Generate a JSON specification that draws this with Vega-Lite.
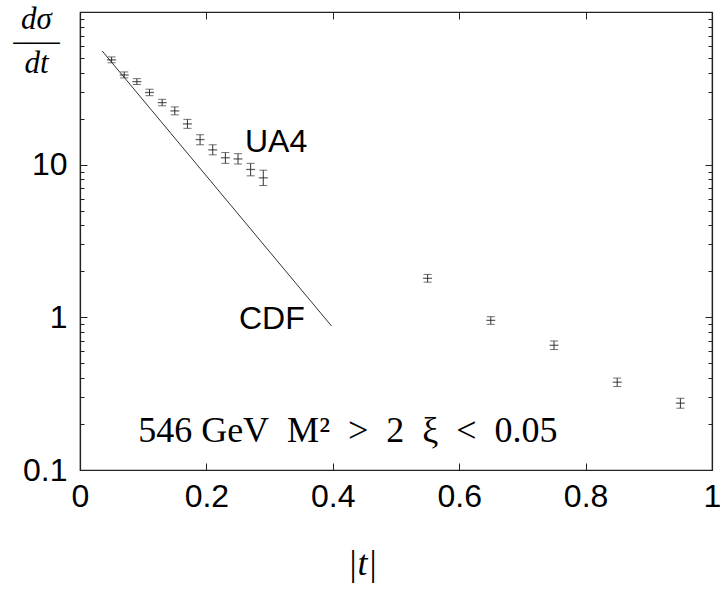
{
  "$schema": "https://vega.github.io/schema/vega-lite/v6.json",
  "width": 632,
  "height": 458,
  "autosize": "none",
  "padding": {"left": 80, "top": 12, "right": 8, "bottom": 123},
  "background": "white",
  "config": {
    "view": {"stroke": "#222", "strokeWidth": 1.2},
    "axis": {"domainColor": "#222", "tickColor": "#222", "labelColor": "#000", "titleColor": "#000", "grid": false, "domainWidth": 1.2, "tickWidth": 1}
  },
  "datasets": {
    "ua4": [
      {"t": 0.05, "v": 48.6, "lo": 46.5, "hi": 50.8},
      {"t": 0.07, "v": 38.7, "lo": 37.0, "hi": 40.5},
      {"t": 0.09, "v": 35.0, "lo": 33.5, "hi": 36.6},
      {"t": 0.11, "v": 29.7, "lo": 28.3, "hi": 31.2},
      {"t": 0.13, "v": 25.5, "lo": 24.3, "hi": 26.8},
      {"t": 0.15, "v": 22.5, "lo": 21.2, "hi": 23.9},
      {"t": 0.17, "v": 18.5, "lo": 17.3, "hi": 19.8},
      {"t": 0.19, "v": 14.6, "lo": 13.5, "hi": 15.7},
      {"t": 0.21, "v": 12.5, "lo": 11.6, "hi": 13.5},
      {"t": 0.23, "v": 11.1, "lo": 10.2, "hi": 12.0},
      {"t": 0.25, "v": 10.9, "lo": 10.1, "hi": 11.8},
      {"t": 0.27, "v": 9.3, "lo": 8.45, "hi": 10.2},
      {"t": 0.29, "v": 8.2, "lo": 7.3, "hi": 9.2},
      {"t": 0.55, "v": 1.80, "lo": 1.70, "hi": 1.91},
      {"t": 0.65, "v": 0.955, "lo": 0.90, "hi": 1.01},
      {"t": 0.75, "v": 0.656, "lo": 0.615, "hi": 0.70},
      {"t": 0.85, "v": 0.376, "lo": 0.352, "hi": 0.40},
      {"t": 0.95, "v": 0.274, "lo": 0.254, "hi": 0.295}
    ],
    "cdf": [
      {"t": 0.035, "v": 55.6},
      {"t": 0.398, "v": 0.877}
    ],
    "sanslabels": [
      {"t": 0.261, "v": 14.0, "label": "UA4"},
      {"t": 0.2516, "v": 0.97, "label": "CDF"}
    ],
    "seriflabels": [
      {"t": 0.092, "v": 0.18, "label": "546 GeV\u00a0 M²\u00a0 > \u00a02\u00a0 ξ\u00a0 < \u00a00.05"}
    ]
  },
  "resolve": {"axis": {"x": "independent", "y": "independent"}},
  "layer": [
    {
      "data": {"name": "cdf"},
      "mark": {"type": "line", "color": "#333", "strokeWidth": 1},
      "encoding": {
        "x": {
          "field": "t", "type": "quantitative",
          "scale": {"domain": [0, 1], "nice": false, "zero": false},
          "axis": {
            "orient": "bottom",
            "values": [0, 0.2, 0.4, 0.6, 0.8, 1],
            "format": "~g",
            "tickSize": -7,
            "labelPadding": 18,
            "labelFont": "Liberation Sans",
            "labelFontSize": 32,
            "labelBound": false,
            "labelFlush": false,
            "labelOverlap": false,
            "title": "|t|",
            "titleFont": "Liberation Serif",
            "titleFontStyle": "italic",
            "titleFontWeight": "normal",
            "titleFontSize": 36,
            "titleX": 282,
            "titleY": 76,
            "titleBaseline": "top"
          }
        },
        "y": {
          "field": "v", "type": "quantitative",
          "scale": {"type": "log", "domain": [0.1, 100], "nice": false},
          "axis": {
            "orient": "left",
            "values": [0.1, 0.2, 0.3, 0.4, 0.5, 0.6, 0.7, 0.8, 0.9, 1, 2, 3, 4, 5, 6, 7, 8, 9, 10, 20, 30, 40, 50, 60, 70, 80, 90, 100],
            "format": "~g",
            "labelExpr": "(datum.value == 0.1 || datum.value == 1 || datum.value == 10) ? datum.label : ''",
            "tickSize": {"condition": {"test": "datum.value == 0.1 || datum.value == 1 || datum.value == 10 || datum.value == 100", "value": -7}, "value": -4},
            "labelPadding": 20,
            "labelFont": "Liberation Sans",
            "labelFontSize": 32,
            "labelOverlap": false,
            "labelBound": false,
            "labelFlush": false,
            "title": ["dσ", "–––", "dt"],
            "titleFont": "Liberation Serif",
            "titleFontStyle": "italic",
            "titleFontWeight": "normal",
            "titleFontSize": 31,
            "titleLineHeight": 22,
            "titleAngle": 0,
            "titleAlign": "center",
            "titleBaseline": "top",
            "titleX": -44,
            "titleY": -8
          }
        }
      }
    },
    {
      "data": {"name": "ua4"},
      "mark": {"type": "rule", "color": "#333", "strokeWidth": 1},
      "encoding": {
        "x": {
          "field": "t", "type": "quantitative",
          "scale": {"domain": [0, 1], "nice": false, "zero": false},
          "axis": {"orient": "top", "values": [0.2, 0.4, 0.6, 0.8], "tickSize": -7, "labels": false, "title": null}
        },
        "y": {
          "field": "lo", "type": "quantitative",
          "scale": {"type": "log", "domain": [0.1, 100], "nice": false},
          "axis": {
            "orient": "right",
            "values": [0.1, 0.2, 0.3, 0.4, 0.5, 0.6, 0.7, 0.8, 0.9, 1, 2, 3, 4, 5, 6, 7, 8, 9, 10, 20, 30, 40, 50, 60, 70, 80, 90, 100],
            "tickSize": {"condition": {"test": "datum.value == 0.1 || datum.value == 1 || datum.value == 10 || datum.value == 100", "value": -7}, "value": -4},
            "labels": false,
            "title": null
          }
        },
        "y2": {"field": "hi"}
      }
    },
    {
      "data": {"name": "ua4"},
      "mark": {"type": "tick", "orient": "horizontal", "color": "#333", "size": 8, "thickness": 1},
      "encoding": {
        "x": {"field": "t", "type": "quantitative", "axis": null},
        "y": {"field": "lo", "type": "quantitative", "axis": null}
      }
    },
    {
      "data": {"name": "ua4"},
      "mark": {"type": "tick", "orient": "horizontal", "color": "#333", "size": 8, "thickness": 1},
      "encoding": {
        "x": {"field": "t", "type": "quantitative", "axis": null},
        "y": {"field": "hi", "type": "quantitative", "axis": null}
      }
    },
    {
      "data": {"name": "ua4"},
      "mark": {"type": "tick", "orient": "horizontal", "color": "#222", "size": 9, "thickness": 1.3},
      "encoding": {
        "x": {"field": "t", "type": "quantitative", "axis": null},
        "y": {"field": "v", "type": "quantitative", "axis": null}
      }
    },
    {
      "data": {"name": "sanslabels"},
      "mark": {"type": "text", "font": "Liberation Sans", "fontSize": 32, "align": "left", "baseline": "middle", "color": "#000"},
      "encoding": {
        "x": {"field": "t", "type": "quantitative", "axis": null},
        "y": {"field": "v", "type": "quantitative", "axis": null},
        "text": {"field": "label"}
      }
    },
    {
      "data": {"name": "seriflabels"},
      "mark": {"type": "text", "font": "Liberation Serif", "fontSize": 36, "align": "left", "baseline": "middle", "color": "#000"},
      "encoding": {
        "x": {"field": "t", "type": "quantitative", "axis": null},
        "y": {"field": "v", "type": "quantitative", "axis": null},
        "text": {"field": "label"}
      }
    }
  ]
}
